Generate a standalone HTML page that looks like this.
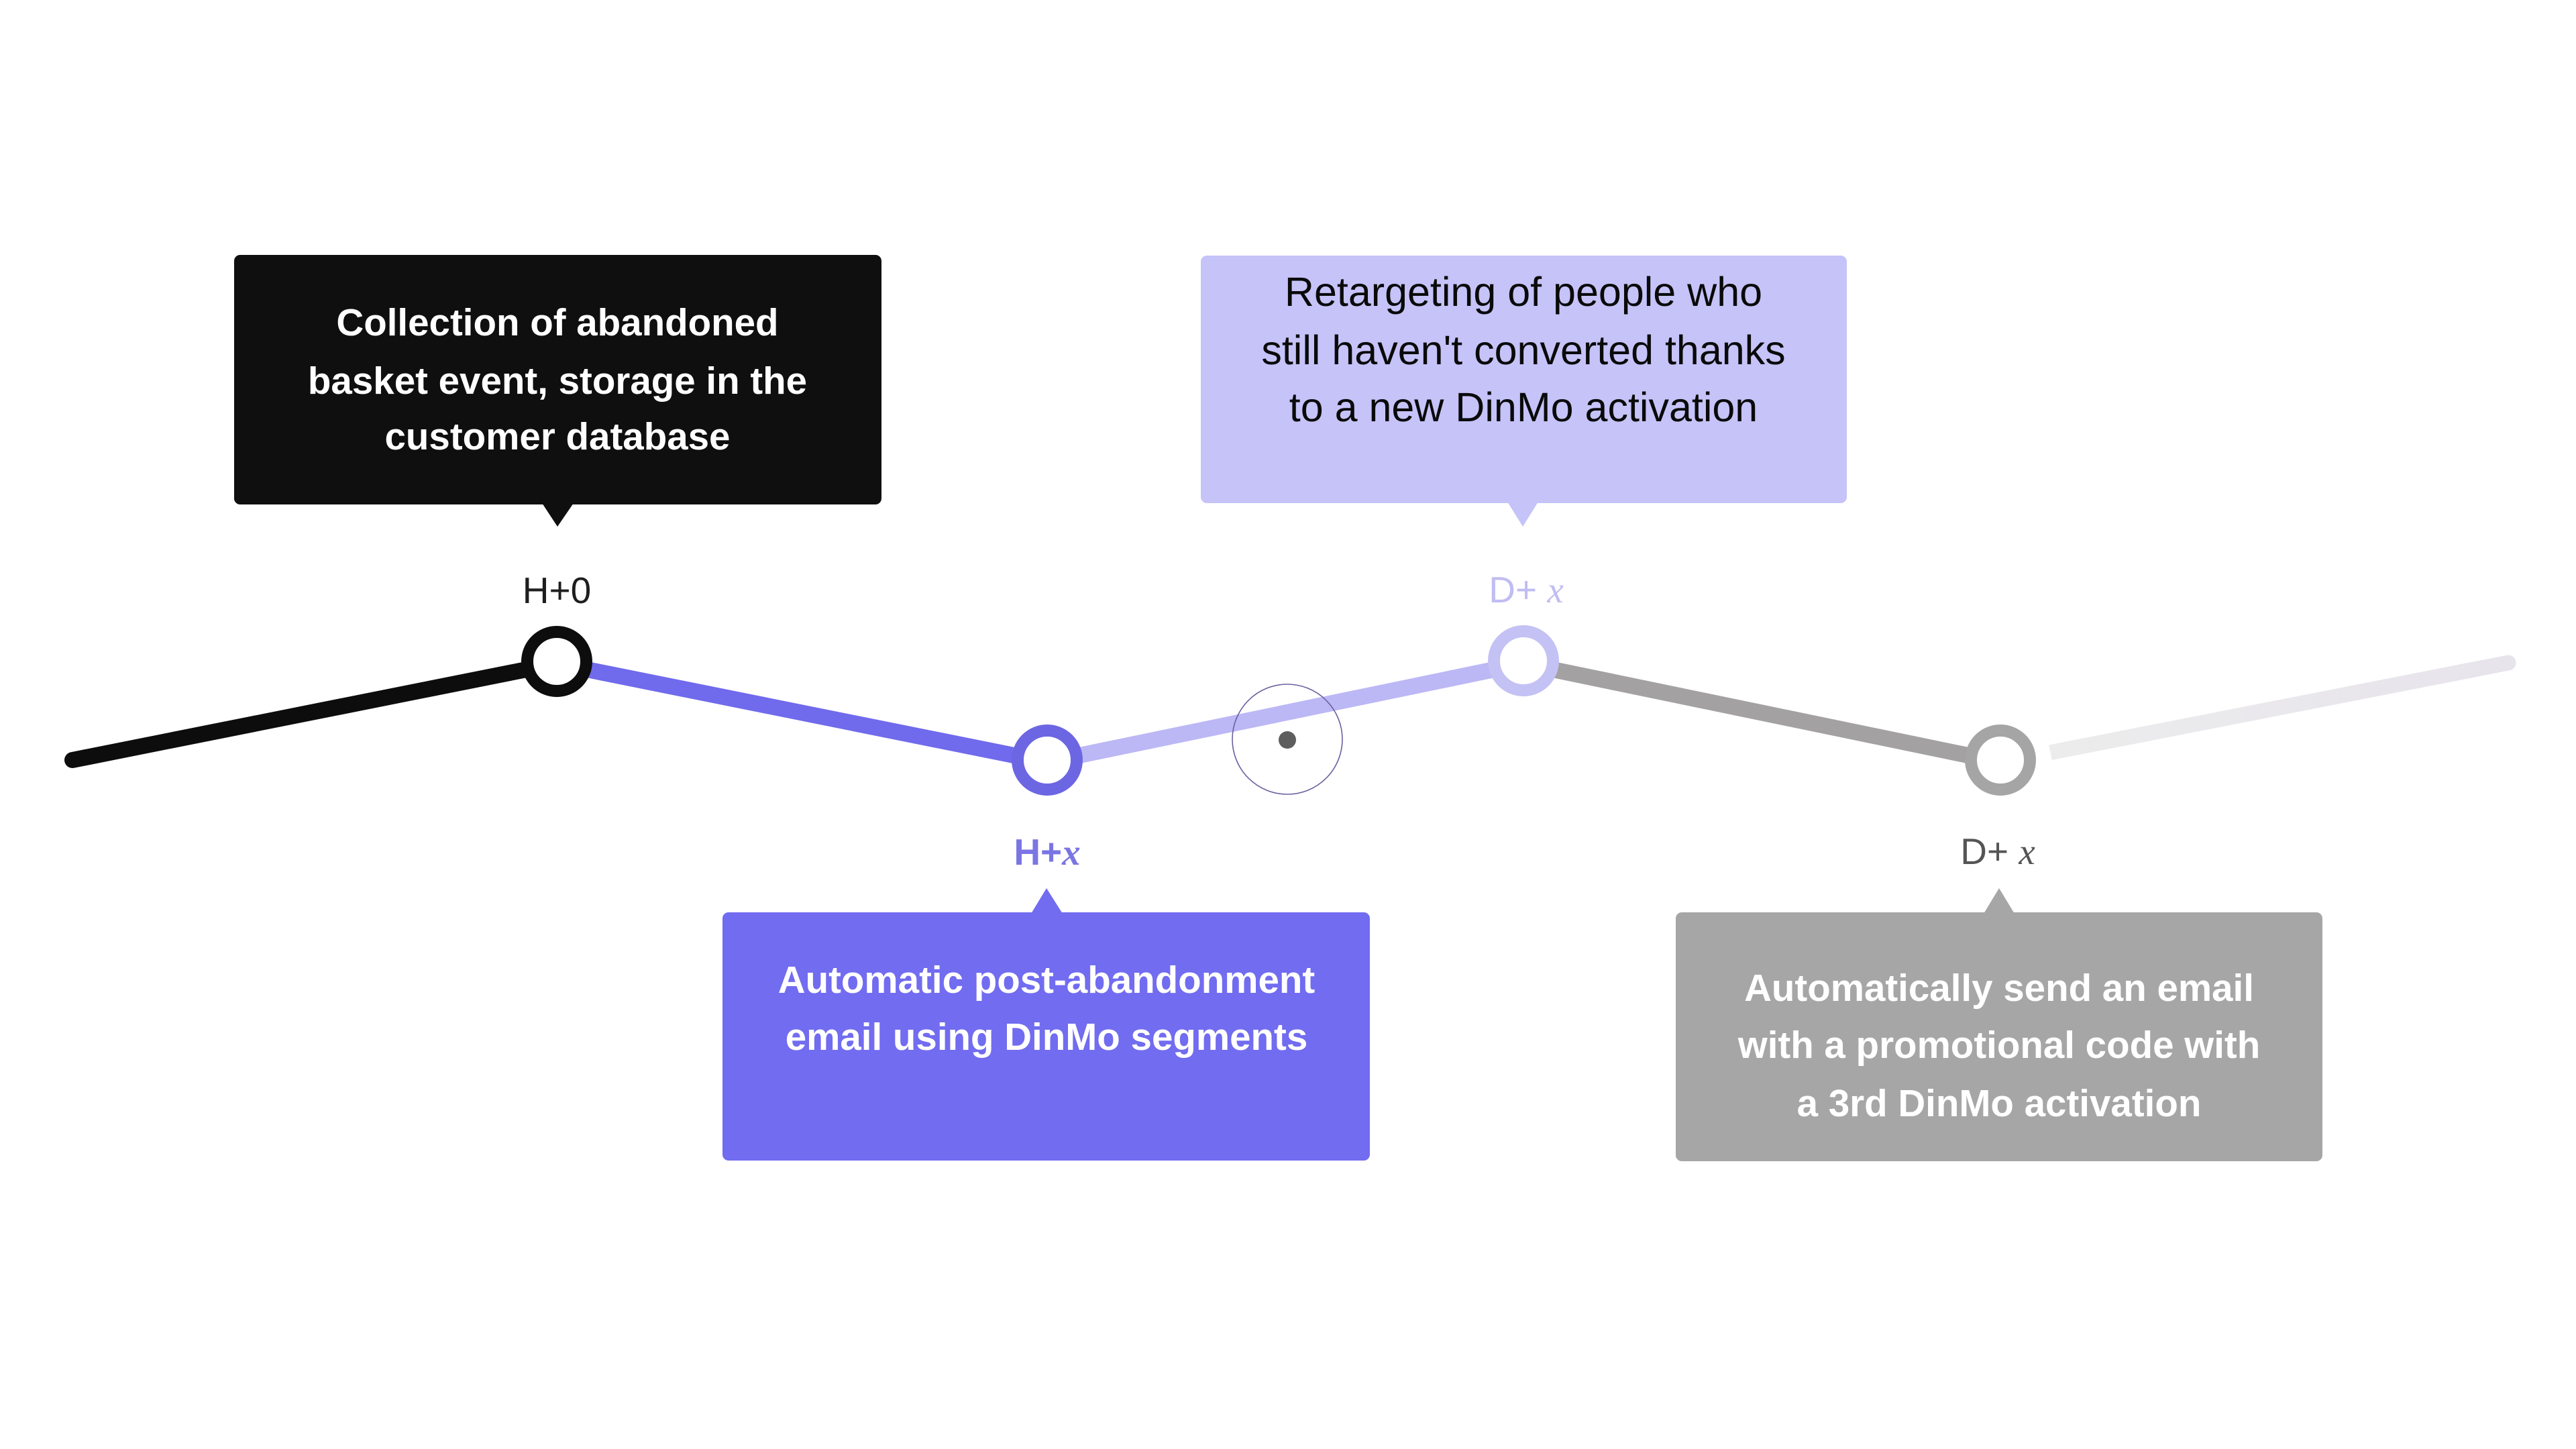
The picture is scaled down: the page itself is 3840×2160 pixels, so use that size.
<!DOCTYPE html>
<html>
<head>
<meta charset="utf-8">
<style>
  html, body { margin: 0; padding: 0; background: #ffffff; }
  body { width: 3840px; height: 2160px; overflow: hidden; }
  svg { display: block; }
  .b { font-family: "Liberation Sans", Arial, sans-serif; font-weight: bold; font-size: 56.5px; }
  .r { font-family: "Liberation Sans", Arial, sans-serif; font-weight: normal; font-size: 61px; }
  .lbl { font-family: "Liberation Sans", Arial, sans-serif; font-size: 55px; }
</style>
</head>
<body>
<svg width="3840" height="2160" viewBox="0 0 3840 2160" xmlns="http://www.w3.org/2000/svg">
  <rect x="0" y="0" width="3840" height="2160" fill="#ffffff"/>

  <!-- Boxes -->
  <!-- Black box -->
  <rect x="349" y="380" width="965" height="372" rx="9" ry="9" fill="#0f0f0f"/>
  <polygon points="808,750 855,750 831,785" fill="#0f0f0f"/>
  <!-- Lavender box -->
  <rect x="1790" y="381" width="963" height="369" rx="9" ry="9" fill="#c5c3f8"/>
  <polygon points="2247,748 2293,748 2270,785" fill="#c5c3f8"/>
  <!-- Blue box -->
  <rect x="1077" y="1360" width="965" height="370" rx="9" ry="9" fill="#716cf0"/>
  <polygon points="1537,1362 1584,1362 1560,1324" fill="#716cf0"/>
  <!-- Gray box -->
  <rect x="2498" y="1360" width="964" height="371" rx="9" ry="9" fill="#a6a6a6"/>
  <polygon points="2957,1362 3003,1362 2980,1324" fill="#a6a6a6"/>

  <!-- Box texts -->
  <g class="b" fill="#ffffff" text-anchor="middle">
    <text x="831" y="500">Collection of abandoned</text>
    <text x="831" y="587">basket event, storage in the</text>
    <text x="831" y="670">customer database</text>
  </g>
  <g class="r" fill="#0a0a0a" text-anchor="middle">
    <text x="2271" y="456">Retargeting of people who</text>
    <text x="2271" y="543">still haven't converted thanks</text>
    <text x="2271" y="628">to a new DinMo activation</text>
  </g>
  <g class="b" fill="#ffffff" text-anchor="middle">
    <text x="1560" y="1480">Automatic post-abandonment</text>
    <text x="1560" y="1565">email using DinMo segments</text>
  </g>
  <g class="b" fill="#ffffff" text-anchor="middle">
    <text x="2980" y="1492">Automatically send an email</text>
    <text x="2980" y="1577">with a promotional code with</text>
    <text x="2980" y="1664">a 3rd DinMo activation</text>
  </g>

  <!-- Timeline segments -->
  <line x1="108" y1="1133" x2="830" y2="989" stroke="#0d0d0d" stroke-width="24" stroke-linecap="round"/>
  <line x1="830" y1="989" x2="1561" y2="1136" stroke="#706aec" stroke-width="24" stroke-linecap="butt"/>
  <line x1="1561" y1="1136" x2="2271" y2="989" stroke="#bcb8f5" stroke-width="24" stroke-linecap="butt"/>
  <line x1="2271" y1="989" x2="2982" y2="1136" stroke="#a3a1a1" stroke-width="24" stroke-linecap="butt"/>
  <defs>
    <linearGradient id="tail" x1="3055" y1="0" x2="3740" y2="0" gradientUnits="userSpaceOnUse">
      <stop offset="0" stop-color="#ececec"/>
      <stop offset="1" stop-color="#e7e4ec"/>
    </linearGradient>
  </defs>
  <line x1="3055" y1="1122" x2="3739" y2="988" stroke="url(#tail)" stroke-width="23" stroke-linecap="round"/>
  <rect x="3040" y="1100" width="16" height="40" fill="#ffffff" transform="rotate(-11 3048 1120)"/>

  <!-- Nodes -->
  <circle cx="830" cy="986" r="44" fill="#ffffff" stroke="#0d0d0d" stroke-width="18"/>
  <circle cx="1561" cy="1133" r="44" fill="#ffffff" stroke="#6c66e3" stroke-width="18"/>
  <circle cx="2271" cy="985" r="44" fill="#ffffff" stroke="#c4c1f4" stroke-width="18"/>
  <circle cx="2982" cy="1133" r="44" fill="#ffffff" stroke="#a5a5a5" stroke-width="18"/>

  <!-- Cursor -->
  <circle cx="1919" cy="1102" r="82" fill="none" stroke="#6c5fa0" stroke-width="1.6"/>
  <circle cx="1919" cy="1103" r="13" fill="#5e5e5e"/>

  <!-- Node labels -->
  <text class="lbl" x="830" y="899" fill="#1e1e1e" text-anchor="middle">H+0</text>
  <text class="lbl" x="1561" y="1289" fill="#7a75e3" text-anchor="middle" font-weight="bold">H+<tspan font-family="'Liberation Serif', serif" font-style="italic">x</tspan></text>
  <text class="lbl" x="2275" y="898" fill="#c0bdf2" text-anchor="middle">D+ <tspan font-family="'Liberation Serif', serif" font-style="italic">x</tspan></text>
  <text class="lbl" x="2978" y="1288" fill="#555555" text-anchor="middle">D+ <tspan font-family="'Liberation Serif', serif" font-style="italic">x</tspan></text>
</svg>
</body>
</html>
